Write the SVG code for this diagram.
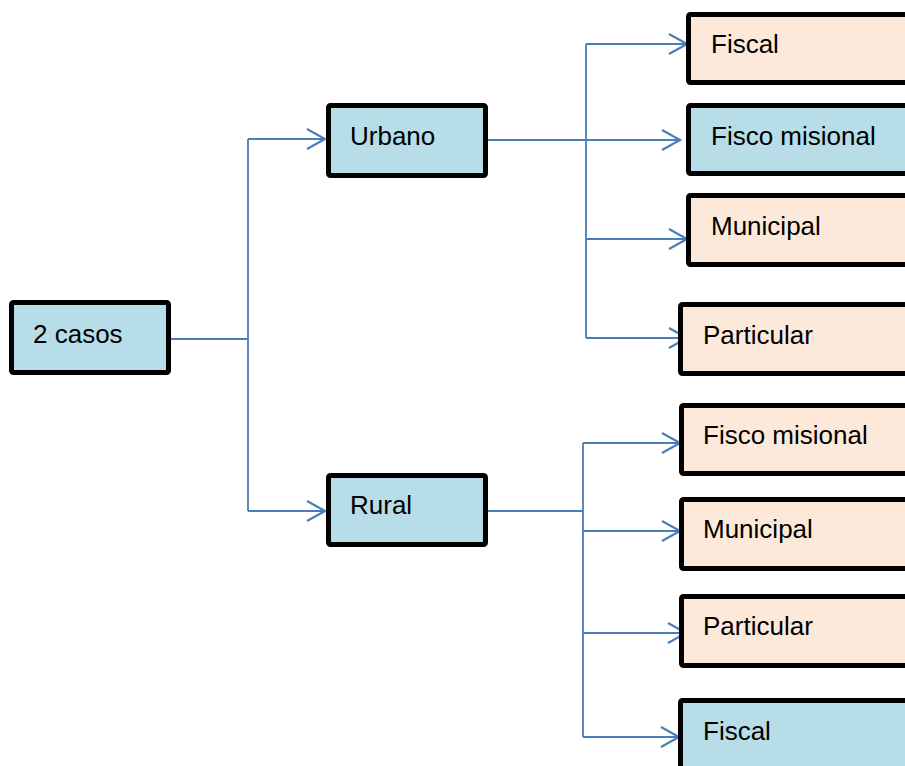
<svg xmlns="http://www.w3.org/2000/svg" width="905" height="766" viewBox="0 0 905 766">
<style>
.box{stroke:#000;stroke-width:5;}
.blue{fill:#b7dde8;}
.peach{fill:#fde9d9;}
.lbl{font-family:"Liberation Sans",Arial,sans-serif;font-size:26px;fill:#000;}
.ln{fill:none;stroke:#4a7ebb;stroke-width:1.8;}
.arr{fill:none;stroke:#4a7ebb;stroke-width:1.8;marker-end:url(#ah);}
</style>
<defs>
<marker id="ah" markerUnits="userSpaceOnUse" viewBox="-20 -12 23 24" refX="0" refY="0" markerWidth="23" markerHeight="24" orient="auto">
<path d="M-18,-10 L0,0 L-18,10" fill="none" stroke="#4a7ebb" stroke-width="2.2"/>
</marker>
</defs>
<rect width="905" height="766" fill="#fff"/>
<g id="connectors">
<path class="ln" d="M171,339 H248 M248,139 V511"/>
<path class="arr" d="M248,139 H325"/>
<path class="arr" d="M248,511 H325"/>
<path class="ln" d="M488,140 H586 M586,44 V338"/>
<path class="arr" d="M586,140 H680"/>
<path class="arr" d="M586,44 H687"/>
<path class="arr" d="M586,239 H687"/>
<path class="arr" d="M586,338 H687"/>
<path class="ln" d="M488,511 H583 M583,443 V737"/>
<path class="arr" d="M583,443 H680"/>
<path class="arr" d="M583,531 H680"/>
<path class="arr" d="M583,633 H686"/>
<path class="arr" d="M583,737 H679"/>
</g>
<g id="n-2casos"><rect class="box blue" x="11.5" y="302.5" width="157" height="70" rx="2"/><text class="lbl" x="33" y="343">2 casos</text></g>
<g id="n-urbano"><rect class="box blue" x="328.5" y="105.5" width="157" height="70" rx="2"/><text class="lbl" x="350" y="145">Urbano</text></g>
<g id="n-rural"><rect class="box blue" x="328.5" y="475.5" width="157" height="69" rx="2"/><text class="lbl" x="350" y="514">Rural</text></g>
<g id="n-u-fiscal"><rect class="box peach" x="688.5" y="14.5" width="300" height="68" rx="2"/><text class="lbl" x="711" y="53">Fiscal</text></g>
<g id="n-u-fisco"><rect class="box blue" x="688.5" y="105.5" width="300" height="68" rx="2"/><text class="lbl" x="711" y="145">Fisco misional</text></g>
<g id="n-u-municipal"><rect class="box peach" x="688.5" y="195.5" width="300" height="69" rx="2"/><text class="lbl" x="711" y="235">Municipal</text></g>
<g id="n-u-particular"><rect class="box peach" x="680.5" y="304.5" width="300" height="69" rx="2"/><text class="lbl" x="703" y="344">Particular</text></g>
<g id="n-r-fisco"><rect class="box peach" x="681.5" y="405.5" width="300" height="68" rx="2"/><text class="lbl" x="703" y="444">Fisco misional</text></g>
<g id="n-r-municipal"><rect class="box peach" x="681.5" y="499.5" width="300" height="69" rx="2"/><text class="lbl" x="703" y="538">Municipal</text></g>
<g id="n-r-particular"><rect class="box peach" x="681.5" y="596.5" width="300" height="69" rx="2"/><text class="lbl" x="703" y="635">Particular</text></g>
<g id="n-r-fiscal"><rect class="box blue" x="680.5" y="700.5" width="300" height="100" rx="2"/><text class="lbl" x="703" y="740">Fiscal</text></g>
</svg>
